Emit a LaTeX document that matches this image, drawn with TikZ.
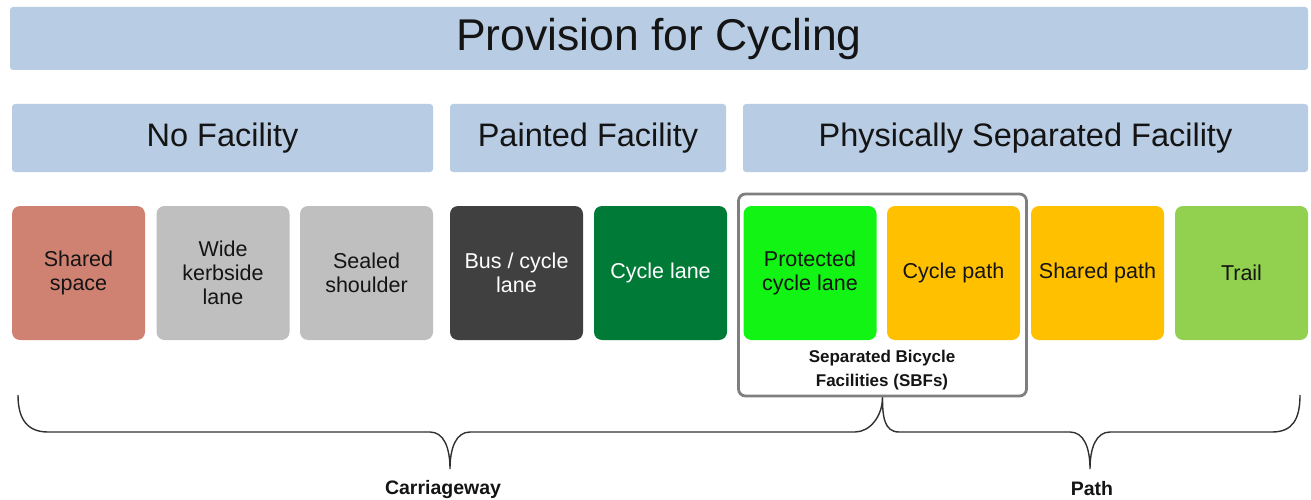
\documentclass[tikz,border=0pt]{standalone}
\usepackage{fontspec}
\setmainfont{Liberation Sans}
\definecolor{hdr}{HTML}{B8CCE4}
\definecolor{salmon}{HTML}{D08272}
\definecolor{lgray}{HTML}{BFBFBF}
\definecolor{dgray}{HTML}{404040}
\definecolor{dgreen}{HTML}{007A37}
\definecolor{bgreen}{HTML}{12F414}
\definecolor{amber}{HTML}{FFC000}
\definecolor{lgreen}{HTML}{92D050}
\definecolor{txt}{HTML}{141414}
\definecolor{brc}{HTML}{303030}
\definecolor{sbf}{HTML}{7F7F7F}
\begin{document}
\begin{tikzpicture}[x=1pt,y=-1pt,
  hdrbox/.style={fill=hdr, draw=none, rounded corners=3pt, inner sep=0pt, text=txt},
  catbox/.style={draw=none, rounded corners=8pt, minimum width=133pt, minimum height=134pt,
    inner sep=0pt, align=center, text=txt, font=\fontsize{21.5}{24}\selectfont},
  wtext/.style={text=white},
  brace/.style={draw=brc, line width=1.4pt},
  lbl/.style={text=txt, font=\fontsize{19.5}{22}\selectfont\bfseries}]
\useasboundingbox (0,0) rectangle (1311,500);
% headers
\node[hdrbox, minimum width=1298pt, minimum height=63pt, font=\fontsize{44.5}{50}\selectfont] (title) at (659,38.5) {Provision for Cycling};
\node[hdrbox, minimum width=421pt, minimum height=68pt, font=\fontsize{32.5}{38}\selectfont] (nofac) at (222.5,138) {No Facility};
\node[hdrbox, minimum width=276pt, minimum height=68pt, font=\fontsize{32.5}{38}\selectfont] (paint) at (588,138) {Painted Facility};
\node[hdrbox, minimum width=565pt, minimum height=68pt, font=\fontsize{32.5}{38}\selectfont] (phys) at (1025.5,138) {Physically Separated Facility};
% SBF frame
\node[draw=sbf, line width=2.8pt, rounded corners=7pt, minimum width=288pt, minimum height=202pt, inner sep=0pt] (sbf) at (882.5,295) {};
% category boxes
\node[catbox, fill=salmon] (shsp) at (78.5,273) {Shared\\space};
\node[catbox, fill=lgray] (wide) at (223,273) {Wide\\kerbside\\lane};
\node[catbox, fill=lgray] (seal) at (366.5,273) {Sealed\\shoulder};
\node[catbox, fill=dgray, wtext] (bus) at (516.5,273) {Bus / cycle\\lane};
\node[catbox, fill=dgreen, wtext] (clane) at (660.5,273) {Cycle lane};
\node[catbox, fill=bgreen] (prot) at (810,273) {Protected\\cycle lane};
\node[catbox, fill=amber] (cpath) at (953.5,273) {Cycle path};
\node[catbox, fill=amber] (shpath) at (1097.5,273) {Shared path};
\node[catbox, fill=lgreen] (trail) at (1241.5,273) {Trail};
\node[text=txt, align=center, font=\fontsize{17}{24}\selectfont\bfseries] (sbflbl) at (882,370) {Separated Bicycle\\Facilities (SBFs)};
% braces
\coordinate (lb) at (18,395);
\coordinate (ctip) at (450,469);
\coordinate (mid) at (sbf.south);
\coordinate (ptip) at (1090,469);
\coordinate (rb) at (1300,395);
\draw[brace] (lb) .. controls (18,420) and (28,432) .. (48,432) -- (430,432)
  .. controls (444,432) and (450,448) .. (ctip)
  .. controls (450,448) and (456,432) .. (470,432) -- (855,432)
  .. controls (870,432) and (mid |- 0,416) .. (mid);
\draw[brace] (mid) .. controls (mid |- 0,416) and (884,432) .. (899,432) -- (1070,432)
  .. controls (1084,432) and (1090,448) .. (ptip)
  .. controls (1090,448) and (1096,432) .. (1110,432) -- (1272,432)
  .. controls (1292,432) and (1300,420) .. (rb);
\node[lbl] (carr) at (443,489) {Carriageway};
\node[lbl] (path) at (1092,489) {Path};
\end{tikzpicture}
\end{document}
